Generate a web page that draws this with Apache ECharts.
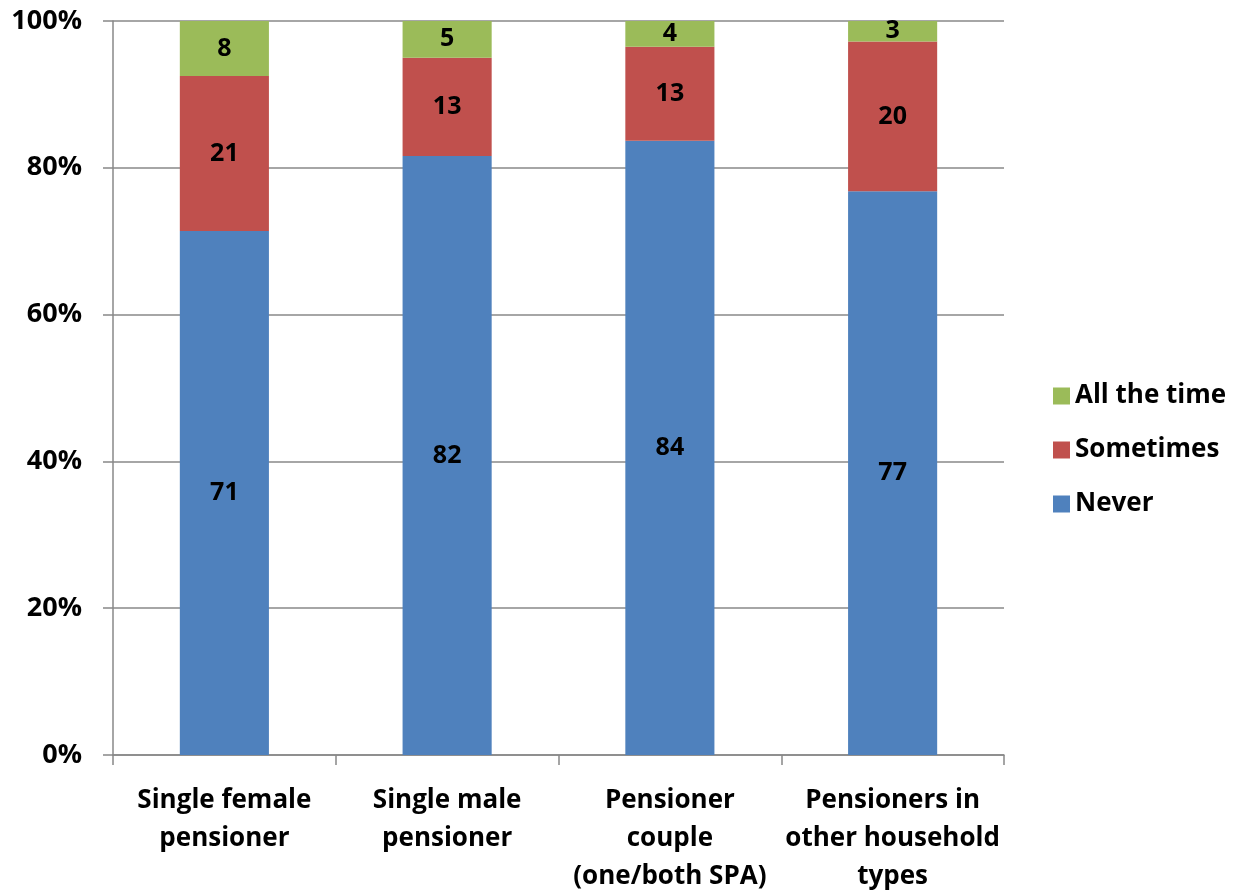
<!DOCTYPE html>
<html>
<head>
<meta charset="utf-8">
<script src="https://cdn.jsdelivr.net/npm/echarts@6/dist/echarts.min.js"></script>
<style>html,body{margin:0;padding:0;background:#fff}#c{width:1234px;height:891px}</style>
</head>
<body>
<div id="c"></div>
<script>
var categories = ['Single female\npensioner', 'Single male\npensioner', 'Pensioner\ncouple\n(one/both SPA)', 'Pensioners in\nother household\ntypes'];
var never = [71.4, 81.6, 83.7, 76.8];
var sometimes = [21.1, 13.4, 12.8, 20.4];
var allTheTime = [7.5, 5.0, 3.5, 2.8];
var yTicks = [0, 20, 40, 60, 80, 100];

var FONT = 'Open Sans';
var chart = echarts.init(document.getElementById('c'));
var lbl = {
  show: true, position: 'inside', color: '#000', fontFamily: FONT, fontWeight: 'bold', fontSize: 25,
  formatter: function (p) { return Math.round(p.value); }
};
function s(name, data, color) {
  return { name: name, type: 'bar', stack: 'total', data: data, barWidth: '40%',
    itemStyle: { color: color }, label: lbl };
}
chart.setOption({
  animation: false,
  grid: { left: 113, right: 230, top: 21, bottom: 136, outerBoundsMode: 'none', containLabel: false },
  legend: {
    orient: 'vertical', left: 1048, top: 378, itemWidth: 17, itemHeight: 17, itemGap: 28,
    icon: 'rect',
    data: ['All the time', 'Sometimes', 'Never'],
    textStyle: { fontFamily: FONT, fontWeight: 'bold', fontSize: 26, color: '#000' }
  },
  xAxis: {
    type: 'category', data: categories,
    axisLine: { lineStyle: { color: '#888', width: 1.5 } },
    axisTick: { show: true, length: 10, lineStyle: { color: '#888', width: 1.5 } },
    axisLabel: { color: '#000', fontFamily: FONT, fontWeight: 'bold', fontSize: 26, lineHeight: 38, margin: 27, interval: 0 }
  },
  yAxis: {
    type: 'value', min: 0, max: 100, interval: 20,
    axisLine: { show: true, lineStyle: { color: '#888', width: 1.5 } },
    axisTick: { show: true, length: 10, lineStyle: { color: '#888', width: 1.5 } },
    splitLine: { lineStyle: { color: '#888', width: 1.5 } },
    axisLabel: { color: '#000', fontFamily: FONT, fontWeight: 'bold', fontSize: 27, margin: 31,
      formatter: function (v) { return yTicks.indexOf(v) >= 0 ? v + '%' : ''; } }
  },
  series: [
    s('Never', never, '#4F81BD'),
    s('Sometimes', sometimes, '#C0504D'),
    s('All the time', allTheTime, '#9BBB59')
  ]
});
</script>
</body>
</html>
